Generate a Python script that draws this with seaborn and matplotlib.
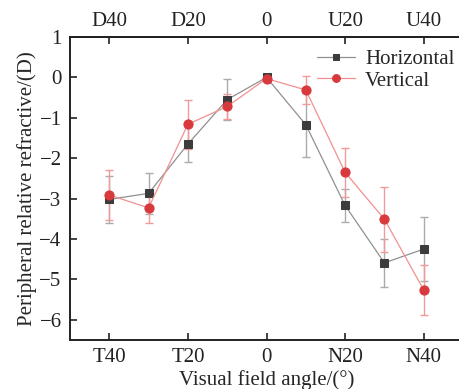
import numpy as np
import pandas as pd
import matplotlib
matplotlib.use("Agg")
import matplotlib.pyplot as plt
import seaborn as sns

angles = [-40, -30, -20, -10, 0, 10, 20, 30, 40]
bottom_labels = ["T40", "T20", "0", "N20", "N40"]
top_labels = ["D40", "D20", "0", "U20", "U40"]
label_ticks = [-40, -20, 0, 20, 40]

horizontal = [-3.02, -2.87, -1.65, -0.55, 0.0, -1.17, -3.17, -4.59, -4.25]
horizontal_err = [0.58, 0.50, 0.44, 0.50, 0.05, 0.80, 0.40, 0.60, 0.80]
vertical = [-2.91, -3.23, -1.16, -0.72, -0.03, -0.31, -2.35, -3.51, -5.26]
vertical_err = [0.62, 0.37, 0.60, 0.32, 0.05, 0.35, 0.60, 0.80, 0.61]

df = pd.DataFrame({
    "angle": angles * 2,
    "value": horizontal + vertical,
    "err": horizontal_err + vertical_err,
    "series": ["Horizontal"] * len(angles) + ["Vertical"] * len(angles),
})

sns.set_style("ticks")
plt.rcParams["font.family"] = ["Liberation Serif", "DejaVu Serif"]

fig = plt.figure(figsize=(4.6, 3.89), dpi=100)
ax = fig.add_axes([70 / 460, 1 - 340 / 389, 393 / 460, (340 - 37) / 389])

styles = {
    "Horizontal": dict(marker="s", mcolor="#3c3c3c", lcolor="#909090", ecolor="#ababab", ms=5.8),
    "Vertical": dict(marker="o", mcolor="#d8393d", lcolor="#f29090", ecolor="#f29a9a", ms=6.6),
}

for name in ["Horizontal", "Vertical"]:
    sub = df[df["series"] == name]
    st = styles[name]
    ax.errorbar(sub["angle"], sub["value"], yerr=sub["err"], fmt="none",
                ecolor=st["ecolor"], elinewidth=1.0, capsize=3, capthick=1.0, zorder=2)
    sns.lineplot(data=sub, x="angle", y="value", ax=ax, color=st["lcolor"],
                 linewidth=0.9, marker=st["marker"], markersize=st["ms"],
                 markerfacecolor=st["mcolor"], markeredgecolor=st["mcolor"],
                 label=name, errorbar=None, zorder=3)

ax.set_xlim(-50, 50)
ax.set_ylim(-6.5, 1)
ax.set_xticks(label_ticks)
ax.set_xticklabels(bottom_labels)
ax.set_yticks([1, 0, -1, -2, -3, -4, -5, -6])
ax.set_yticklabels(["1", "0", "\u22121", "\u22122", "\u22123", "\u22124", "\u22125", "\u22126"])
ax.set_xlabel("Visual field angle/(°)", fontsize=15, labelpad=2)
ax.set_ylabel("Peripheral relative refractive/(D)", fontsize=15, labelpad=2)
ax.tick_params(direction="in", length=5, width=1.2, labelsize=15, pad=6, colors="#222222")
for sp in ax.spines.values():
    sp.set_linewidth(1.4)
    sp.set_color("#222222")

sec = ax.secondary_xaxis("top")
sec.set_xticks(label_ticks)
sec.set_xticklabels(top_labels)
sec.tick_params(direction="in", length=5, width=1.2, labelsize=15, pad=4, colors="#222222")
sec.spines["top"].set_linewidth(1.4)

leg = ax.legend(loc="upper right", bbox_to_anchor=(1.01, 1.0), frameon=False,
                fontsize=15, handlelength=1.8, handletextpad=0.5,
                borderaxespad=0.2, labelspacing=0.1, markerscale=0.85)

fig.savefig("out.png", dpi=100)
